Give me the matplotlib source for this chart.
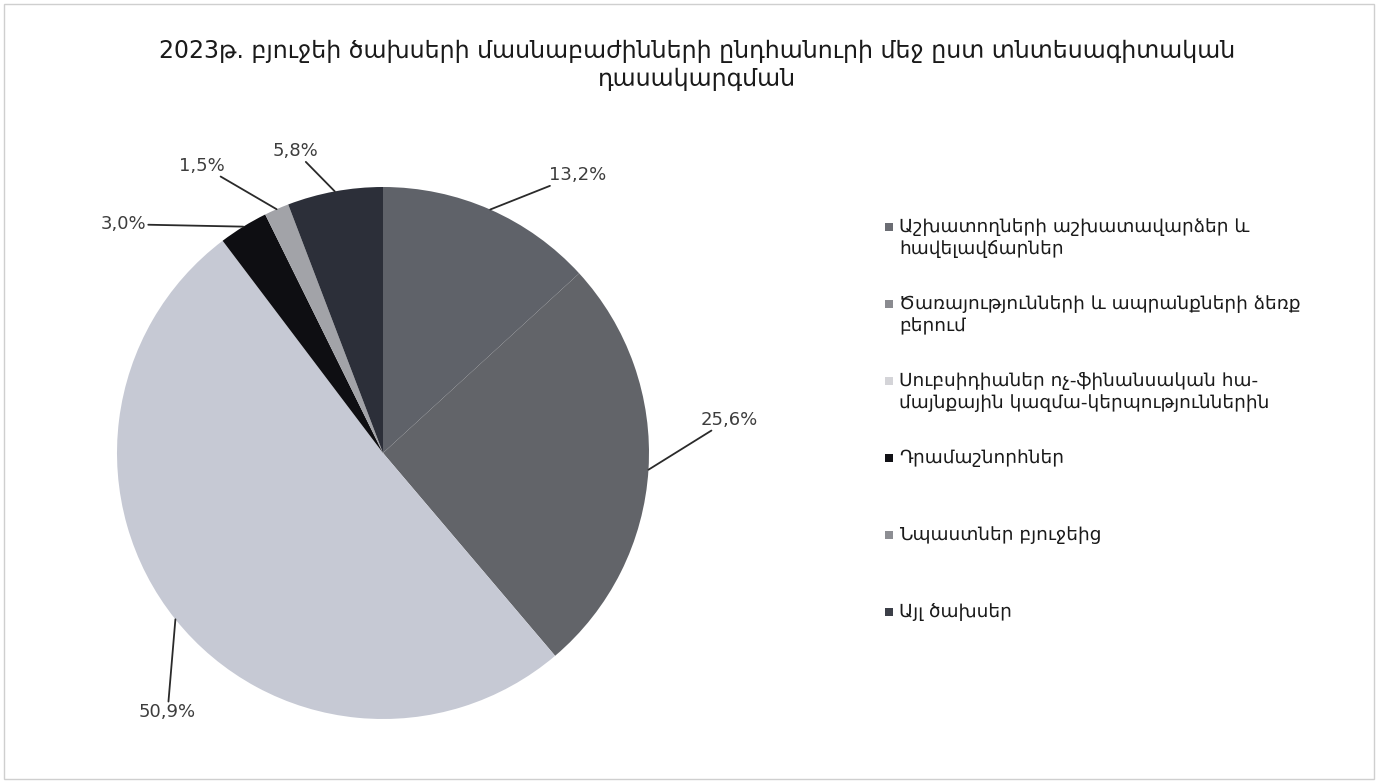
import numpy as np
import matplotlib
matplotlib.use("Agg")
import matplotlib.pyplot as plt
from matplotlib.patches import Rectangle

W, H = 1378, 783

TITLE = ("2023թ. բյուջեի ծախսերի մասնաբաժինների ընդհանուրի մեջ ըստ տնտեսագիտական\n"
         "դասակարգման")

categories = [
    "Աշխատողների աշխատավարձեր և\nհավելավճարներ",
    "Ծառայությունների և ապրանքների ձեռք\nբերում",
    "Սուբսիդիաներ ոչ-ֆինանսական հա-\nմայնքային կազմա-կերպություններին",
    "Դրամաշնորհներ",
    "Նպաստներ բյուջեից",
    "Այլ ծախսեր",
]
shares = [13.2, 25.6, 50.9, 3.0, 1.5, 5.8]
share_labels = ["13,2%", "25,6%", "50,9%", "3,0%", "1,5%", "5,8%"]

colors = ["#5f6269", "#626469", "#c6c9d4", "#0e0e12", "#a2a3a8", "#2c2f39"]
legend_colors = ["#6b6d73", "#8a8b90", "#d4d4d8", "#111116", "#8d8e93", "#3c3f48"]

# where the percent labels sit (pie data units, radius = 1)
label_pos = [(0.73, 1.045), (1.30, 0.125), (-0.81, -0.975),
             (-0.975, 0.86), (-0.68, 1.08), (-0.33, 1.135)]

plt.rcParams["font.family"] = ["DejaVu Sans"]

fig = plt.figure(figsize=(W / 100, H / 100), dpi=100)
fig.patch.set_facecolor("white")

# thin frame around the chart area
fig.add_artist(Rectangle((4 / W, 4 / H), 1 - 8 / W, 1 - 8 / H, transform=fig.transFigure,
                         fill=False, ec="#cfcfcf", lw=1.0))

fig.text(697 / W, 1 - 65 / H, TITLE, ha="center", va="center", fontsize=17,
         color="#1a1a1a", linespacing=1.2, multialignment="center")

cx, cy, r = 383, 453, 266
ax = fig.add_axes([(cx - r) / W, (H - cy - r) / H, 2 * r / W, 2 * r / H])
wedges, _ = ax.pie(shares, colors=colors, startangle=90, counterclock=False,
                   radius=1, wedgeprops=dict(linewidth=0))
ax.set_xlim(-1, 1)
ax.set_ylim(-1, 1)
ax.set_aspect("equal")
ax.axis("off")

for w, lab, pos in zip(wedges, share_labels, label_pos):
    ang = np.deg2rad((w.theta1 + w.theta2) / 2)
    edge = (np.cos(ang), np.sin(ang))
    ax.annotate(lab, xy=edge, xytext=pos, textcoords="data", ha="center", va="center",
                fontsize=13, color="#3d3d3d", annotation_clip=False,
                bbox=dict(boxstyle="square,pad=0.1", fc="none", ec="none"),
                arrowprops=dict(arrowstyle="-", color="#2a2a2a", lw=1.3,
                                shrinkA=0, shrinkB=0))

# legend, drawn by hand so the rows keep the same spacing
y0, step, line_gap = 227, 77, 22
for i, (name, col) in enumerate(zip(categories, legend_colors)):
    y = y0 + i * step
    fig.add_artist(Rectangle((885 / W, 1 - (y + 4) / H), 8 / W, 8 / H,
                             transform=fig.transFigure, fc=col, ec="none"))
    for j, line in enumerate(name.split("\n")):
        fig.text(899 / W, 1 - (y + j * line_gap) / H, line, ha="left", va="center",
                 fontsize=13.3, color="#1a1a1a")

fig.savefig("out.png", dpi=100, facecolor="white")
